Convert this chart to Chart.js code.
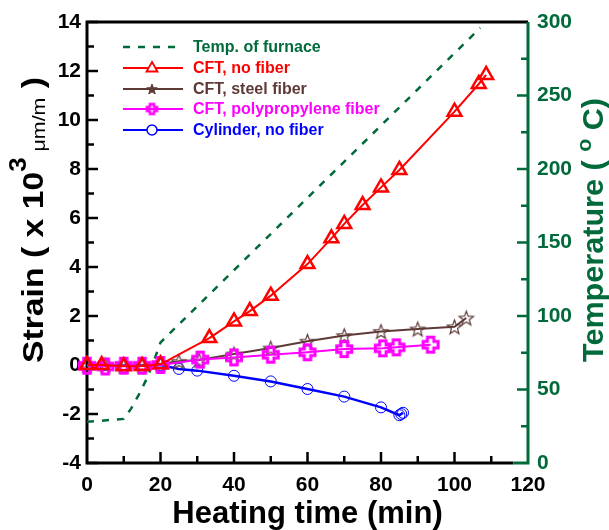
<!DOCTYPE html>
<html>
<head>
<meta charset="utf-8">
<script src="https://cdn.jsdelivr.net/npm/chart.js@4.4.0/dist/chart.umd.min.js"></script>
<style>
html, body { margin: 0; padding: 0; background: #fff; }
</style>
</head>
<body>
<canvas id="strainChart" width="609" height="530"></canvas>
<script>
// values (time in min, strain in x10^3 um/m, temperature in deg C)
const timeFurnace = [0, 10, 12, 14, 16, 18, 20, 107];
const tempFurnace = [28, 30, 37, 46, 56, 68, 82, 296];

const timeNoFiber = [0, 4, 10, 15, 20, 33.3, 40, 44.3, 50, 60, 66.5, 70, 75, 80, 85, 100, 106.6, 108.6];
const strainNoFiber = [0.0, 0.0, -0.05, -0.04, 0.03, 1.1, 1.78, 2.2, 2.83, 4.12, 5.17, 5.76, 6.53, 7.25, 7.96, 10.34, 11.47, 11.84];

const timeSteel = [0, 5, 10, 15, 20, 25, 30.5, 40, 50, 60, 70, 80, 90, 100, 103.2];
const strainSteel = [0, 0, -0.02, 0, 0.05, 0.15, 0.2, 0.45, 0.69, 0.97, 1.2, 1.37, 1.47, 1.56, 1.92];

const timePoly = [0, 5, 10, 15, 20, 30.8, 40, 50, 60, 70, 80.5, 84.2, 93.5];
const strainPoly = [-0.03, -0.06, -0.03, -0.03, 0, 0.22, 0.31, 0.42, 0.52, 0.65, 0.68, 0.72, 0.83];

const timeCylinder = [0, 5, 10, 15, 20, 25, 30, 40, 50, 60, 70, 80, 85, 85.5, 86];
const strainCylinder = [0, 0, -0.02, -0.02, 0, -0.16, -0.23, -0.44, -0.67, -0.98, -1.29, -1.73, -2.05, -2.0, -1.95];

const xTicks = [0, 20, 40, 60, 80, 100, 120];
const strainTicks = [-4, -2, 0, 2, 4, 6, 8, 10, 12, 14];
const tempTicks = [0, 50, 100, 150, 200, 250, 300];

const RED = '#ff0000', BROWN = '#5e3a37', MAGENTA = '#ff00ff', BLUE = '#0000ff', GREEN = '#006a3a';
const FONT = 'Arial, "Liberation Sans", sans-serif';

function pts(xs, ys) {
    return xs.map((x, i) => ({x: x, y: ys[i]}));
}

function makeStar(r, color, lw, filled) {
    const c = document.createElement('canvas');
    const size = Math.ceil(2 * r + lw + 2);
    c.width = size; c.height = size;
    const g = c.getContext('2d');
    g.translate(size / 2, size / 2 + r * 0.1);
    g.beginPath();
    for (let i = 0; i < 10; i++) {
        const rr = i % 2 === 0 ? r : r * 0.42;
        const a = -Math.PI / 2 + i * Math.PI / 5;
        g.lineTo(Math.cos(a) * rr, Math.sin(a) * rr);
    }
    g.closePath();
    if (filled) { g.fillStyle = color; g.fill(); }
    g.strokeStyle = color; g.lineWidth = lw; g.lineJoin = 'miter';
    g.stroke();
    return c;
}

function makePlus(s, a, color, lw) {
    const c = document.createElement('canvas');
    const size = Math.ceil(2 * s + lw + 2);
    c.width = size; c.height = size;
    const g = c.getContext('2d');
    g.translate(size / 2, size / 2);
    const p = [[-a, -s], [a, -s], [a, -a], [s, -a], [s, a], [a, a], [a, s], [-a, s], [-a, a], [-s, a], [-s, -a], [-a, -a]];
    g.beginPath();
    p.forEach(q => g.lineTo(q[0], q[1]));
    g.closePath();
    g.strokeStyle = color; g.lineWidth = lw;
    g.stroke();
    return c;
}

const starImg = makeStar(7.5, BROWN, 1.2, false);
const plusImg = makePlus(7.5, 3.2, MAGENTA, 3);
const starSmall = makeStar(5.5, BROWN, 1, true);
const plusSmall = makePlus(5, 2, MAGENTA, 2.5);

// inward ticks, frame and coloured axes
const framePlugin = {
    id: 'frame',
    beforeDatasetsDraw(chart) {
        const {ctx, chartArea: a, scales} = chart;
        ctx.save();
        ctx.lineCap = 'butt';
        ctx.lineWidth = 2.5;
        ctx.strokeStyle = '#000';
        for (let v = -4; v <= 14; v++) {
            const y = scales.y.getPixelForValue(v);
            const len = v % 2 === 0 ? 11 : 7;
            ctx.beginPath(); ctx.moveTo(a.left, y); ctx.lineTo(a.left + len, y); ctx.stroke();
        }
        for (let v = 10; v < 120; v += 10) {
            const x = scales.x.getPixelForValue(v);
            const len = v % 20 === 0 ? 11 : 7;
            ctx.beginPath(); ctx.moveTo(x, a.bottom); ctx.lineTo(x, a.bottom - len); ctx.stroke();
        }
        ctx.strokeStyle = GREEN;
        for (let v = 25; v < 300; v += 25) {
            const y = scales.y2.getPixelForValue(v);
            const len = v % 50 === 0 ? 11 : 7;
            ctx.beginPath(); ctx.moveTo(a.right, y); ctx.lineTo(a.right - len, y); ctx.stroke();
        }
        ctx.lineWidth = 3;
        ctx.strokeStyle = '#000';
        const xEnd = scales.x.getPixelForValue(116);
        ctx.beginPath();
        ctx.moveTo(xEnd, a.bottom); ctx.lineTo(a.left, a.bottom);
        ctx.lineTo(a.left, a.top); ctx.lineTo(a.right, a.top);
        ctx.stroke();
        ctx.strokeStyle = GREEN;
        ctx.beginPath();
        ctx.moveTo(a.right, a.top); ctx.lineTo(a.right, a.bottom); ctx.lineTo(xEnd, a.bottom);
        ctx.stroke();
        ctx.restore();
    }
};

function drawRotated(ctx, x, y, length, parts) {
    let total = 0;
    parts.forEach(p => { ctx.font = p.font; p.w = ctx.measureText(p.text).width; total += p.w; });
    ctx.save();
    ctx.translate(x, y);
    ctx.rotate(-Math.PI / 2);
    ctx.scale(length / total, 1);
    ctx.textBaseline = 'alphabetic';
    ctx.textAlign = 'left';
    let cx = 0;
    parts.forEach(p => {
        ctx.font = p.font;
        ctx.fillStyle = p.color;
        ctx.fillText(p.text, cx, p.dy || 0);
        cx += p.w;
    });
    ctx.restore();
}

const titlesPlugin = {
    id: 'titles',
    afterDraw(chart) {
        const {ctx, chartArea: a} = chart;
        ctx.save();
        ctx.font = 'bold 31px ' + FONT;
        ctx.fillStyle = '#000';
        ctx.textAlign = 'center';
        ctx.textBaseline = 'alphabetic';
        ctx.fillText('Heating time (min)', (a.left + a.right) / 2, 523);
        ctx.restore();

        drawRotated(ctx, 43, 363, 286, [
            {text: 'Strain ( x 10', font: 'bold 30px ' + FONT, color: '#000'},
            {text: '3', font: 'bold 23px ' + FONT, color: '#000', dy: -17},
            {text: ' \u03bcm/m', font: '19px ' + FONT, color: '#000', dy: 2},
            {text: ' )', font: 'bold 30px ' + FONT, color: '#000'}
        ]);
        drawRotated(ctx, 603, 362, 264, [
            {text: 'Temperature ( ', font: 'bold 30px ' + FONT, color: GREEN},
            {text: 'o', font: 'bold 21px ' + FONT, color: GREEN, dy: -12},
            {text: ' C)', font: 'bold 30px ' + FONT, color: GREEN}
        ]);

        // legend
        const rows = [
            {label: 'Temp. of furnace', color: GREEN, dash: true, y: 47},
            {label: 'CFT, no fiber', color: RED, mark: 'tri', y: 68},
            {label: 'CFT, steel fiber', color: BROWN, mark: starSmall, y: 89},
            {label: 'CFT, polypropylene fiber', color: MAGENTA, mark: plusSmall, y: 109},
            {label: 'Cylinder, no fiber', color: BLUE, mark: 'circle', y: 130}
        ];
        ctx.save();
        rows.forEach(r => {
            ctx.strokeStyle = r.color;
            ctx.lineWidth = r.dash ? 2.5 : 2;
            ctx.setLineDash(r.dash ? [7, 8] : []);
            ctx.beginPath(); ctx.moveTo(123, r.y); ctx.lineTo(183, r.y); ctx.stroke();
            ctx.setLineDash([]);
            if (r.mark === 'tri') {
                ctx.lineWidth = 1.8;
                ctx.beginPath();
                ctx.moveTo(152, r.y - 6); ctx.lineTo(157.5, r.y + 3.5); ctx.lineTo(146.5, r.y + 3.5);
                ctx.closePath();
                ctx.fillStyle = '#fff'; ctx.fill(); ctx.stroke();
            } else if (r.mark === 'circle') {
                ctx.lineWidth = 1.5;
                ctx.beginPath(); ctx.arc(152, r.y, 5, 0, 2 * Math.PI);
                ctx.fillStyle = '#fff'; ctx.fill(); ctx.stroke();
            } else if (r.mark) {
                ctx.drawImage(r.mark, 152 - r.mark.width / 2, r.y - r.mark.height / 2);
            }
            ctx.font = 'bold 16px ' + FONT;
            ctx.fillStyle = r.color;
            ctx.textBaseline = 'middle';
            ctx.textAlign = 'left';
            ctx.fillText(r.label, 193, r.y + 1);
        });
        ctx.restore();
    }
};

const ctxStrain = document.getElementById('strainChart');

const chart = new Chart(ctxStrain, {
    type: 'line',
    data: {
        datasets: [{
            label: 'CFT, no fiber',
            data: pts(timeNoFiber, strainNoFiber),
            yAxisID: 'y',
            borderColor: RED,
            borderWidth: 2,
            pointStyle: 'triangle',
            pointRadius: 8,
            pointBorderWidth: 2.5,
            pointBackgroundColor: 'rgba(0,0,0,0)',
            pointBorderColor: RED,
            clip: false
        }, {
            label: 'CFT, polypropylene fiber',
            data: pts(timePoly, strainPoly),
            yAxisID: 'y',
            borderColor: MAGENTA,
            borderWidth: 2,
            pointStyle: plusImg,
            pointRadius: 8,
            clip: false
        }, {
            label: 'CFT, steel fiber',
            data: pts(timeSteel, strainSteel),
            yAxisID: 'y',
            borderColor: BROWN,
            borderWidth: 2,
            pointStyle: starImg,
            pointRadius: 8,
            clip: false
        }, {
            label: 'Cylinder, no fiber',
            data: pts(timeCylinder, strainCylinder),
            yAxisID: 'y',
            borderColor: BLUE,
            borderWidth: 2.5,
            pointStyle: 'circle',
            pointRadius: 5.5,
            pointBorderWidth: 1,
            pointBackgroundColor: 'rgba(0,0,0,0)',
            pointBorderColor: BLUE,
            clip: false
        }, {
            label: 'Temp. of furnace',
            data: pts(timeFurnace, tempFurnace),
            yAxisID: 'y2',
            borderColor: GREEN,
            borderWidth: 2.5,
            borderDash: [7, 8],
            pointRadius: 0
        }]
    },
    options: {
        responsive: false,
        animation: false,
        events: [],
        layout: {padding: {top: 22}},
        plugins: {legend: {display: false}, tooltip: {enabled: false}},
        elements: {line: {tension: 0}},
        scales: {
            x: {
                type: 'linear',
                min: 0, max: 120,
                afterBuildTicks: s => { s.ticks = xTicks.map(v => ({value: v})); },
                afterFit: s => { s.height = 67; },
                grid: {display: false, drawTicks: false},
                border: {display: false},
                ticks: {color: '#000', padding: 10, maxRotation: 0, font: {family: FONT, size: 21, weight: 'bold'}}
            },
            y: {
                position: 'left',
                min: -4, max: 14,
                afterBuildTicks: s => { s.ticks = strainTicks.map(v => ({value: v})); },
                afterFit: s => { s.width = 87; },
                grid: {display: false, drawTicks: false},
                border: {display: false},
                ticks: {color: '#000', padding: 6, font: {family: FONT, size: 21, weight: 'bold'}}
            },
            y2: {
                position: 'right',
                min: 0, max: 300,
                afterBuildTicks: s => { s.ticks = tempTicks.map(v => ({value: v})); },
                afterFit: s => { s.width = 81; },
                grid: {display: false, drawTicks: false},
                border: {display: false},
                ticks: {color: GREEN, padding: 9, font: {family: FONT, size: 21, weight: 'bold'}}
            }
        }
    },
    plugins: [framePlugin, titlesPlugin]
});
</script>
</body>
</html>
